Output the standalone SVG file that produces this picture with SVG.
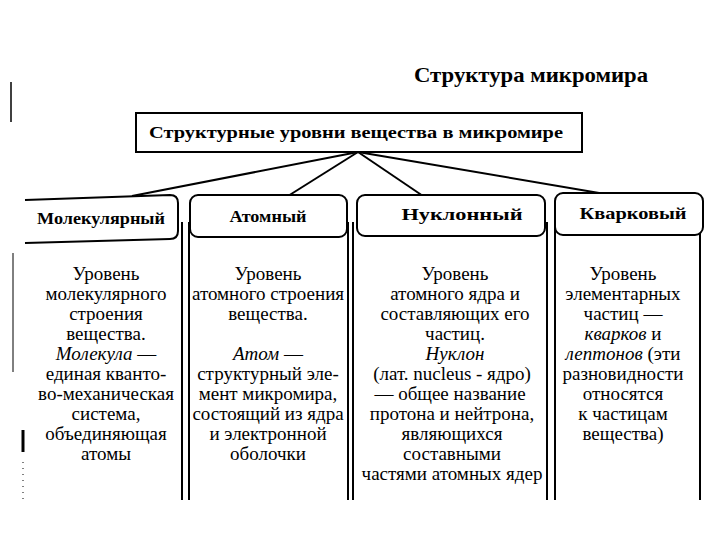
<svg xmlns="http://www.w3.org/2000/svg" width="720" height="540" viewBox="0 0 720 540">
<style>
.bg{fill:#fff}
.box{fill:#fff;stroke:#000;stroke-width:2}
.col{fill:none;stroke:#000;stroke-width:2}
.edge{fill:none;stroke:#000;stroke-width:2}
.scan{fill:none;stroke:#000}
.title{font-family:"Liberation Serif",serif;font-weight:bold;font-size:21px;text-anchor:middle}
.hdr{font-family:"Liberation Serif",serif;font-weight:bold;font-size:17px;text-anchor:middle}
.body{font-family:"Liberation Serif",serif;font-size:19px;text-anchor:middle}
.it{font-style:italic}
</style>
<rect class="bg" x="0" y="0" width="720" height="540"/>
<g id="artifacts">
<line class="scan" x1="11" y1="82" x2="11" y2="122" stroke-width="1.5"/>
<line class="scan" x1="13" y1="253" x2="13" y2="372" stroke-width="1"/>
<line class="scan" x1="23" y1="430" x2="23" y2="452" stroke-width="3"/>
<line class="scan" x1="23" y1="462" x2="23" y2="500" stroke-width="1" stroke-dasharray="1 5"/>
</g>
<g id="title">
<text class="title" x="531" y="82" textLength="234" lengthAdjust="spacingAndGlyphs">Структура  микромира</text>
</g>
<g id="connectors">
<line class="edge" x1="358" y1="152" x2="132" y2="196"/>
<line class="edge" x1="358" y1="152" x2="288" y2="196"/>
<line class="edge" x1="358" y1="152" x2="423" y2="196"/>
<line class="edge" x1="358" y1="152" x2="605" y2="194"/>
</g>
<g id="root">
<rect class="box" x="136" y="113" width="446" height="39"/>
<text class="hdr" x="356" y="138" font-size="19" textLength="414" lengthAdjust="spacingAndGlyphs">Структурные уровни вещества в микромире</text>
</g>
<g id="molecular">
<path class="col" d="M182,222 V500"/>
<path class="box" d="M25,200 L170,195 Q178,195 178,203 V231 Q178,239 170,239 L25,243"/>
<text class="hdr" x="101" y="224" textLength="128" lengthAdjust="spacingAndGlyphs">Молекулярный</text>
<text class="body" x="106" y="280">Уровень</text>
<text class="body" x="106" y="300">молекулярного</text>
<text class="body" x="106" y="320">строения</text>
<text class="body" x="106" y="340">вещества.</text>
<text class="body" x="106" y="360"><tspan class="it">Молекула</tspan> —</text>
<text class="body" x="106" y="380">единая кванто-</text>
<text class="body" x="106" y="400">во-механическая</text>
<text class="body" x="106" y="420">система,</text>
<text class="body" x="106" y="440">объединяющая</text>
<text class="body" x="106" y="460">атомы</text>
</g>
<g id="atomic">
<path class="col" d="M189,222 V500 M348,222 V500"/>
<rect class="box" x="190" y="195" width="157" height="42" rx="8"/>
<text class="hdr" x="268" y="222" textLength="77" lengthAdjust="spacingAndGlyphs">Атомный</text>
<text class="body" x="268" y="280">Уровень</text>
<text class="body" x="268" y="300">атомного строения</text>
<text class="body" x="268" y="320">вещества.</text>
<text class="body" x="268" y="360"><tspan class="it">Атом</tspan> —</text>
<text class="body" x="268" y="380">структурный эле-</text>
<text class="body" x="268" y="400">мент микромира,</text>
<text class="body" x="268" y="420">состоящий из ядра</text>
<text class="body" x="268" y="440">и электронной</text>
<text class="body" x="268" y="460">оболочки</text>
</g>
<g id="nucleon">
<path class="col" d="M353,222 V500 M547,222 V500"/>
<rect class="box" x="357" y="195" width="188" height="41" rx="8"/>
<text class="hdr" x="462" y="220" textLength="121" lengthAdjust="spacingAndGlyphs">Нуклонный</text>
<text class="body" x="455" y="280">Уровень</text>
<text class="body" x="455" y="300">атомного ядра и</text>
<text class="body" x="455" y="320">составляющих его</text>
<text class="body" x="455" y="340">частиц.</text>
<text class="body it" x="455" y="360">Нуклон</text>
<text class="body" x="452" y="380">(лат. nucleus - ядро)</text>
<text class="body" x="450" y="400">— общее название</text>
<text class="body" x="452" y="420">протона и нейтрона,</text>
<text class="body" x="452" y="440">являющихся</text>
<text class="body" x="452" y="460">составными</text>
<text class="body" x="452" y="480">частями атомных ядер</text>
</g>
<g id="quark">
<path class="col" d="M555,222 V500 M700,222 V500"/>
<rect class="box" x="555" y="193" width="148" height="42" rx="8"/>
<text class="hdr" x="633" y="219" textLength="107" lengthAdjust="spacingAndGlyphs">Кварковый</text>
<text class="body" x="623" y="280">Уровень</text>
<text class="body" x="623" y="300">элементарных</text>
<text class="body" x="623" y="320">частиц —</text>
<text class="body" x="623" y="340"><tspan class="it">кварков</tspan> и</text>
<text class="body" x="623" y="360"><tspan class="it">лептонов</tspan> (эти</text>
<text class="body" x="623" y="380">разновидности</text>
<text class="body" x="623" y="400">относятся</text>
<text class="body" x="623" y="420">к частицам</text>
<text class="body" x="623" y="440">вещества)</text>
</g>
</svg>
